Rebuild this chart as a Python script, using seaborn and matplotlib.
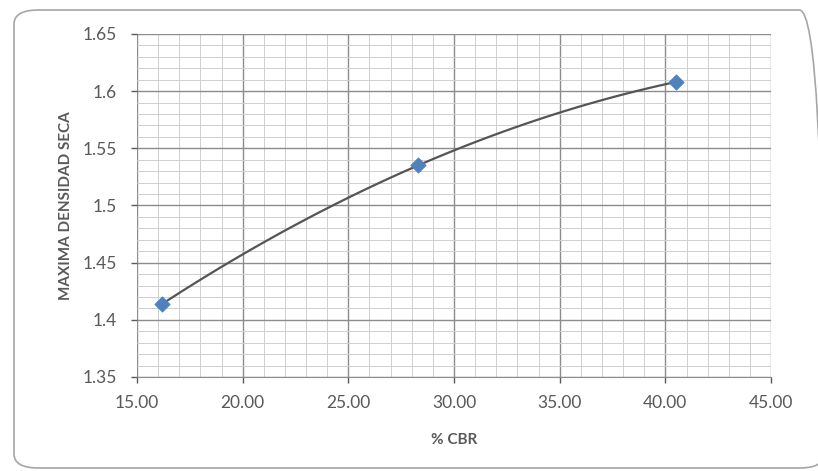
import numpy as np
import pandas as pd
import seaborn as sns
import matplotlib.pyplot as plt
from matplotlib.patches import FancyBboxPatch
from matplotlib.ticker import MultipleLocator, FormatStrFormatter

# values
cbr = [16.2, 28.3, 40.5]
densidad = [1.414, 1.535, 1.608]
y_ticks = ["1.35", "1.4", "1.45", "1.5", "1.55", "1.6", "1.65"]

df = pd.DataFrame({"cbr": cbr, "densidad": densidad})

sns.set_style("white")
plt.rcParams['font.family'] = ['Lato', 'DejaVu Sans']

fig = plt.figure(figsize=(8.18, 4.71), dpi=100)
ax = fig.add_axes([0.1675, 0.1996, 0.7751, 0.7284])

# smooth curve through the three points (quadratic passes exactly through them)
sns.regplot(data=df, x="cbr", y="densidad", order=2, ci=None, truncate=True,
            scatter=False, line_kws={"color": "#555555", "lw": 1.6}, ax=ax)
sns.scatterplot(data=df, x="cbr", y="densidad", marker="D", s=60,
                color="#4F81BD", edgecolor="#4F81BD", zorder=5, ax=ax)

ax.set_xlim(15, 45)
ax.set_ylim(1.35, 1.65)
ax.xaxis.set_major_locator(MultipleLocator(5))
ax.xaxis.set_minor_locator(MultipleLocator(1))
ax.yaxis.set_minor_locator(MultipleLocator(0.01))
ax.xaxis.set_major_formatter(FormatStrFormatter('%.2f'))
ax.set_yticks(np.linspace(1.35, 1.65, len(y_ticks)))
ax.set_yticklabels(y_ticks)

ax.grid(which="major", color="#8c8c8c", lw=1.0)
ax.grid(which="minor", color="#cfcfcf", lw=0.7)
ax.set_axisbelow(True)
for s in ["top", "right", "left"]:
    ax.spines[s].set_visible(False)
ax.spines["bottom"].set_color("#8c8c8c")

ax.tick_params(axis="both", which="major", labelsize=12.5, colors="#595959",
               length=4, width=1, direction="out", left=True, bottom=True)
ax.tick_params(axis="x", which="major", pad=9)
ax.tick_params(axis="y", which="major", pad=10.5)
ax.tick_params(axis="both", which="minor", length=0)

ax.set_xlabel("% CBR", fontsize=11, fontweight="bold", color="#595959", labelpad=16)
ax.set_ylabel("MAXIMA DENSIDAD SECA", fontsize=11, fontweight="bold", color="#595959", labelpad=7)

# rounded chart border
border = FancyBboxPatch((14 / 818, 3 / 471), 810 / 818, 458 / 471,
                        boxstyle="round,pad=0,rounding_size=0.03",
                        transform=fig.transFigure, fill=False,
                        edgecolor="#a6a6a6", lw=1.2)
fig.patches.append(border)

fig.savefig("out.png", dpi=100)
